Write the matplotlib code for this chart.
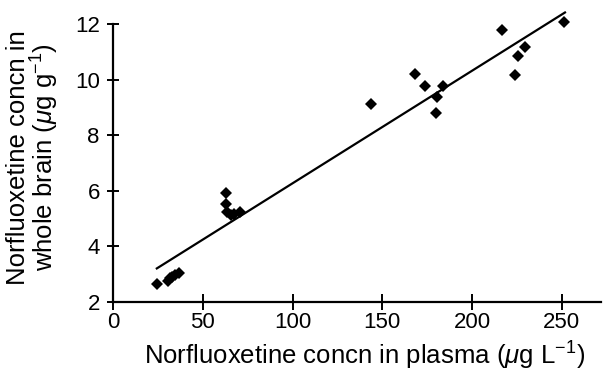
import matplotlib
matplotlib.use("Agg")
import matplotlib.pyplot as plt
import numpy as np

plt.rcParams['font.family'] = ['Liberation Sans', 'DejaVu Sans']
plt.rcParams['mathtext.fontset'] = 'custom'
plt.rcParams['mathtext.rm'] = 'Liberation Sans'
plt.rcParams['mathtext.it'] = 'Liberation Sans:italic'

# plasma concn (ug/L) vs whole brain concn (ug/g)
plasma = [24.4, 30.5, 32.0, 33.0, 34.6, 37.0,
          63.1, 63.1, 63.6, 65.5, 67.5, 70.5,
          143.6, 168.0, 173.7, 179.7, 180.6, 183.8,
          216.5, 223.6, 225.4, 229.5, 251.3]
brain = [2.65, 2.75, 2.85, 2.9, 2.97, 3.05,
         5.93, 5.53, 5.25, 5.13, 5.15, 5.22,
         9.11, 10.2, 9.78, 8.79, 9.38, 9.78,
         11.78, 10.18, 10.86, 11.16, 12.08]

# regression line
fit_x = [24.4, 251.7]
slope = 0.0405
intercept = 2.22

fig = plt.figure(figsize=(6.03, 3.73), dpi=100)
ax = fig.add_axes([0.1874, 0.1903, 0.81, 0.7454])

fx = np.array(fit_x)
ax.plot(fx, slope * fx + intercept, color='black', lw=1.6, clip_on=False)
ax.plot(plasma, brain, 'D', color='black', ms=6.3, mew=0, clip_on=False)

ax.set_xlim(0, 272)
ax.set_ylim(2, 12)
ax.set_xticks([0, 50, 100, 150, 200, 250])
ax.set_yticks([2, 4, 6, 8, 10, 12])

for s in ['top', 'right']:
    ax.spines[s].set_visible(False)
for s in ['left', 'bottom']:
    ax.spines[s].set_linewidth(1.6)

ax.tick_params(axis='x', direction='inout', length=11, width=1.4, labelsize=16, pad=2)
ax.tick_params(axis='y', direction='inout', length=9, width=1.4, labelsize=16, pad=5)

ax.set_xlabel('Norfluoxetine concn in plasma ($\\mu$g L$^{-1}$)', fontsize=18.5)
ax.xaxis.set_label_coords(0.514, -0.135)

ax.set_ylabel('Norfluoxetine concn in\nwhole brain ($\\mu$g g$^{-1}$)', fontsize=18.5,
              linespacing=0.95)
ax.yaxis.label.set_va('center')
ax.yaxis.set_label_coords(-0.163, 0.52)

fig.savefig('out.png', dpi=100)
